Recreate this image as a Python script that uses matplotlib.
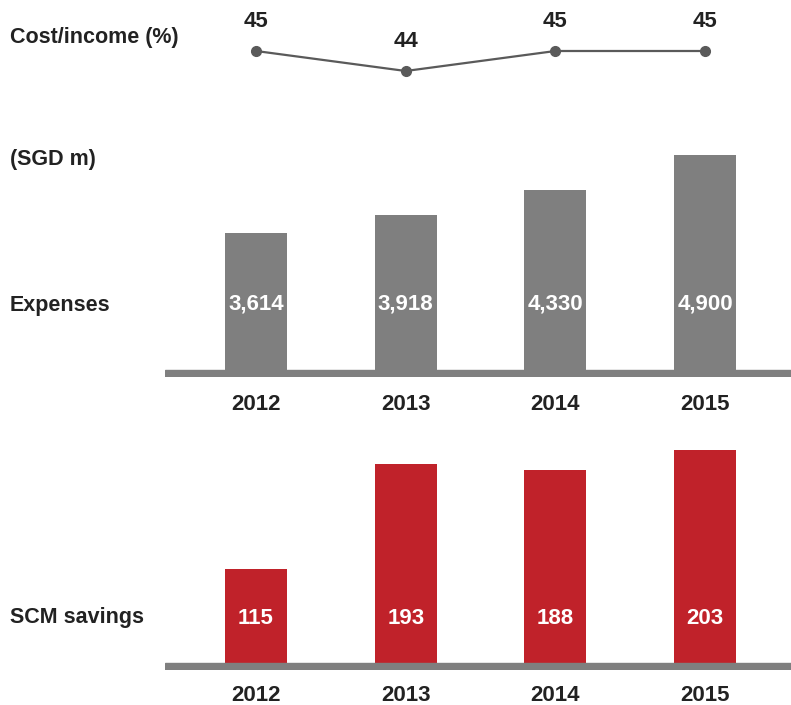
import matplotlib
matplotlib.use("Agg")
import matplotlib.pyplot as plt
import matplotlib.transforms as mtransforms

plt.rcParams['font.family'] = ['Liberation Sans', 'DejaVu Sans']
plt.rcParams['font.weight'] = 'bold'

years = ["2012", "2013", "2014", "2015"]
cost_income = [45, 44, 45, 45]
expenses = [3614, 3918, 4330, 4900]
scm_savings = [115, 193, 188, 203]

GRAY = "#7f7f7f"
RED = "#c0222a"
LINE = "#5a5a5a"
TXT = "#222222"
FS = 15.5
FSN = 16

W, H = 791, 705
fig = plt.figure(figsize=(W / 100, H / 100), dpi=100)

def axes_px(left, top, right, bottom):
    return fig.add_axes([left / W, 1 - bottom / H, (right - left) / W, (bottom - top) / H])

x = list(range(len(years)))
xlim = (-0.608, 3.574)
bw = 0.414

# Cost/income line
ax0 = axes_px(165, 0, 791, 100)
ax0.plot(x, cost_income, color=LINE, lw=1.6, marker='o', ms=7, mfc=LINE, mec=LINE)
ax0.set_xlim(xlim)
ax0.set_ylim(42.55, 47.55)
ax0.axis('off')
for xi, v in zip(x, cost_income):
    ax0.annotate(str(v), (xi, v), xytext=(0, 21), textcoords='offset points',
                 ha='center', va='center', fontsize=FSN, color=TXT, fontweight='bold')

# Expenses bars
ax1 = axes_px(165, 140, 791, 377)
ax1.bar(x, expenses, width=bw, color=GRAY, zorder=2)
ax1.set_xlim(xlim)
y0, yb = 1242, 1357
ax1.set_ylim(y0, 5146)
ax1.axhspan(y0, yb, color=GRAY, zorder=3)
tr1 = mtransforms.blended_transform_factory(ax1.transData, ax1.transAxes)
for xi, v in zip(x, expenses):
    ax1.text(xi, 0.308, f"{v:,}", transform=tr1, ha='center', va='center',
             color='white', fontsize=FSN, fontweight='bold', zorder=4)
ax1.set_xticks(x)
ax1.set_xticklabels(years, fontsize=FSN, color=TXT, fontweight='bold')
ax1.tick_params(axis='x', length=0, pad=12)
ax1.set_yticks([])
for s in ax1.spines.values():
    s.set_visible(False)

# SCM savings bars
ax2 = axes_px(165, 430, 791, 670)
ax2.bar(x, scm_savings, width=bw, color=RED, zorder=2)
ax2.set_xlim(xlim)
z0, zb = 40.3, 45.5
ax2.set_ylim(z0, 217.8)
ax2.axhspan(z0, zb, color=GRAY, zorder=3)
tr2 = mtransforms.blended_transform_factory(ax2.transData, ax2.transAxes)
for xi, v in zip(x, scm_savings):
    ax2.text(xi, 0.2125, f"{v:,}", transform=tr2, ha='center', va='center',
             color='white', fontsize=FSN, fontweight='bold', zorder=4)
ax2.set_xticks(x)
ax2.set_xticklabels(years, fontsize=FSN, color=TXT, fontweight='bold')
ax2.tick_params(axis='x', length=0, pad=11)
ax2.set_yticks([])
for s in ax2.spines.values():
    s.set_visible(False)

# Left labels
for label, ypx in [("Cost/income (%)", 38), ("(SGD m)", 160), ("Expenses", 305), ("SCM savings", 618)]:
    fig.text(10 / W, 1 - ypx / H, label, ha='left', va='center', fontsize=FS,
             color=TXT, fontweight='bold')

fig.savefig("out.png", dpi=100)
